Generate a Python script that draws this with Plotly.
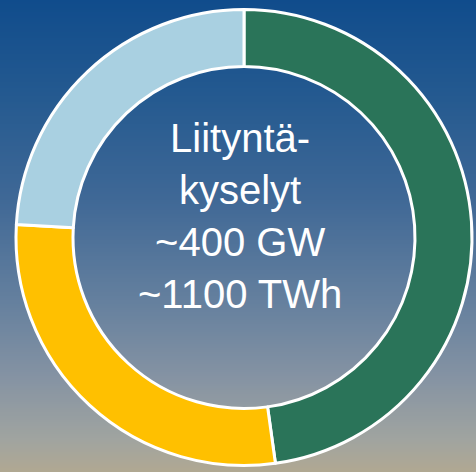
import plotly.graph_objects as go

# Data
categories = ["Vihreä", "Keltainen", "Vaaleansininen"]
shares = [47.8, 28.1, 24.1]
colors = ["#2a7459", "#ffc000", "#a9d0e1"]
center_lines = ["Liityntä-", "kyselyt", "~400 GW", "~1100 TWh"]

W, H = 476, 472

# Background gradient stops (fraction from top, rgb)
grad_stops = [
    (0.00, (16, 76, 140)),
    (0.21, (37, 90, 144)),
    (0.42, (63, 104, 150)),
    (0.64, (101, 128, 158)),
    (0.80, (133, 147, 163)),
    (0.93, (160, 164, 160)),
    (1.00, (176, 168, 146)),
]


def grad_color(t):
    for (t0, c0), (t1, c1) in zip(grad_stops[:-1], grad_stops[1:]):
        if t0 <= t <= t1:
            f = (t - t0) / (t1 - t0) if t1 > t0 else 0
            c = [round(a + (b - a) * f) for a, b in zip(c0, c1)]
            return f"rgb({c[0]},{c[1]},{c[2]})"
    c = grad_stops[-1][1]
    return f"rgb({c[0]},{c[1]},{c[2]})"


n_stripes = 236
shapes = []
for i in range(n_stripes):
    y_top = 1 - i / n_stripes
    y_bot = 1 - (i + 1) / n_stripes
    shapes.append(dict(
        type="rect", xref="paper", yref="paper", layer="below",
        x0=0, x1=1, y0=y_bot - 0.001, y1=y_top,
        fillcolor=grad_color((i + 0.5) / n_stripes), line=dict(width=0),
    ))

cx, cy, r = 244, 237.5, 228
fig = go.Figure(go.Pie(
    labels=categories,
    values=shares,
    hole=0.75,
    sort=False,
    direction="clockwise",
    rotation=0,
    textinfo="none",
    hoverinfo="label+percent",
    marker=dict(colors=colors, line=dict(color="white", width=3)),
    domain=dict(x=[(cx - r) / W, (cx + r) / W], y=[1 - (cy + r) / H, 1 - (cy - r) / H]),
    showlegend=False,
))

fig.add_annotation(
    text="<br>".join(center_lines),
    x=240 / W, y=1 - 216 / H, xref="paper", yref="paper",
    showarrow=False, xanchor="center", yanchor="middle",
    font=dict(family="Liberation Sans, Arial, sans-serif", size=40, color="white"),
)

fig.update_layout(
    width=W, height=H,
    margin=dict(l=0, r=0, t=0, b=0),
    paper_bgcolor="rgb(90,118,155)",
    plot_bgcolor="rgba(0,0,0,0)",
    shapes=shapes,
)

fig.write_html(
    "out.html",
    config={"displayModeBar": False},
    post_script="document.body.style.margin='0';document.body.style.overflow='hidden';",
)
